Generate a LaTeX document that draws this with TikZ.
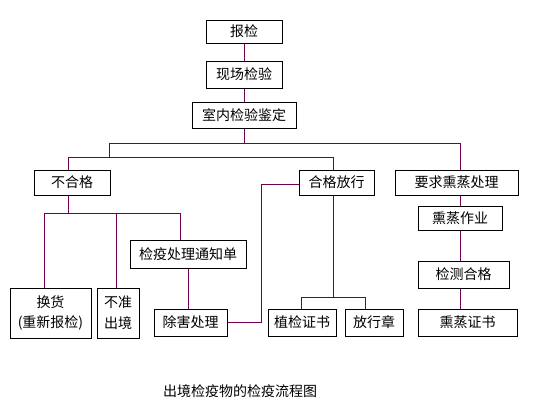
\documentclass[tikz,border=0pt]{standalone}
\usepackage{fontspec}
\setmainfont{Noto Sans CJK SC}
\definecolor{flowline}{RGB}{112,0,84}

\begin{document}
\begin{tikzpicture}[x=0.75pt,y=-0.75pt,
  box/.style={draw,line width=0.75pt,inner sep=0pt,align=center,font=\fontsize{10.5}{15.5}\selectfont},
  link/.style={draw=flowline,line width=0.75pt}]
\useasboundingbox (0,0) rectangle (533,404);

% main column
\node[box,minimum width=57pt,minimum height=17.25pt] (bj) at (244,31.5) {报检};
\node[box,minimum width=57pt,minimum height=20.25pt] (xc) at (244,74.5) {现场检验};
\node[box,minimum width=78pt,minimum height=19.5pt] (sn) at (244,115) {室内检验鉴定};

% three results
\node[box,minimum width=57pt,minimum height=18.75pt] (bhg) at (72,182.5) {不合格};
\node[box,minimum width=56.25pt,minimum height=18.75pt] (hg) at (336.5,182.5) {合格放行};
\node[box,minimum width=92.25pt,minimum height=18.75pt] (yq) at (456.5,182.5) {要求熏蒸处理};

% fumigation branch
\node[box,minimum width=63pt,minimum height=18pt] (zy) at (460,218) {熏蒸作业};
\node[box,minimum width=68.25pt,minimum height=20.25pt] (jc) at (463.5,274.5) {检测合格};
\node[box,minimum width=74.25pt,minimum height=20.25pt] (zs) at (467.5,322.5) {熏蒸证书};

% failed branch
\node[box,minimum width=87pt,minimum height=21pt] (tz) at (188,254) {检疫处理通知单};
\node[box,minimum width=60.75pt,minimum height=37.5pt] (hh) at (50.5,313) {换货\\(重新报检)};
\node[box,minimum width=31.5pt,minimum height=37.5pt] (bz) at (118,313) {不准\\出境};
\node[box,minimum width=54.75pt,minimum height=20.25pt] (ch) at (190.5,322.5) {除害处理};

% passed branch
\node[box,minimum width=51pt,minimum height=20.25pt] (zj) at (302,322.5) {植检证书};
\node[box,minimum width=43.5pt,minimum height=20.25pt] (fx) at (374,322.5) {放行章};

\node[font=\fontsize{10.5}{12}\selectfont] (title) at (240,391) {出境检疫物的检疫流程图};

% bus points
\coordinate (b1l) at (109,143);
\coordinate (b1r) at (460,143);
\coordinate (b2l) at (68,157);
\coordinate (b2r) at (333,157);
\coordinate (b3l) at (44,213);
\coordinate (b3m) at (116,213);
\coordinate (b3r) at (180,213);
\coordinate (b4l) at (301,297);
\coordinate (b4r) at (365,297);
\coordinate (bend) at (261,184);

% connectors
\draw[link] (bj) -- (xc);
\draw[link] (xc) -- (sn);
\draw[link] (sn.south) -- (sn.south |- b1l);
\draw[link] (b1l |- b2l) -- (b1l) -- (b1r) -- (b1r |- yq.north);
\draw[link] (b2l |- bhg.north) -- (b2l) -- (b2r) -- (b2r |- hg.north);
\draw[link] (b2l |- bhg.south) -- (b2l |- b3l);
\draw[link] (b3l |- hh.north) -- (b3l) -- (b3r) -- (b3r |- tz.north);
\draw[link] (b3m) -- (b3m |- bz.north);
\draw[link] (tz.south) -- (tz.south |- ch.north);
\draw[link] (ch.east) -| (bend) -- (bend -| hg.west);
\draw[link] (b2r |- hg.south) -- (b2r |- b4l);
\draw[link] (b4l |- zj.north) -- (b4l) -- (b4r) -- (b4r |- fx.north);
\draw[link] (b1r |- yq.south) -- (b1r |- zy.north);
\draw[link] (b1r |- zy.south) -- (b1r |- jc.north);
\draw[link] (b1r |- jc.south) -- (b1r |- zs.north);
\end{tikzpicture}
\end{document}
